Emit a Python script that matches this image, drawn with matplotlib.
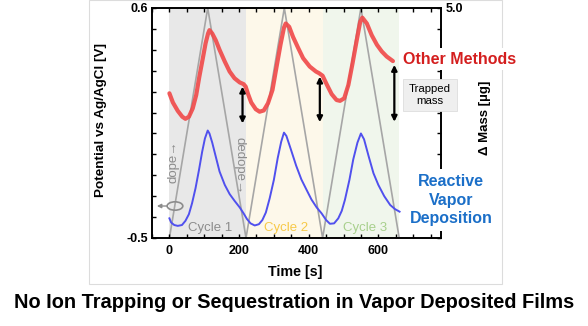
import matplotlib
matplotlib.use("Agg")
import matplotlib.pyplot as plt
from matplotlib.patches import Ellipse, Rectangle
import numpy as np

plt.rcParams['font.family'] = ['Liberation Sans', 'DejaVu Sans']

# potential sweep (left axis, V)
tri_t = [0, 110, 220, 330, 440, 550, 660]
tri_v = [-0.5, 0.6, -0.5, 0.6, -0.5, 0.6, -0.5]

# mass traces (right axis, ug)
red_t = [0, 10, 24, 37, 46, 56, 67, 77, 86, 96, 104, 111, 115, 123, 133, 144, 159,
         173, 187, 202, 213, 219, 226, 235, 248, 259, 271, 283, 296, 307, 319, 329,
         334, 344, 355, 370, 384, 403, 421, 430, 440, 452, 466, 480, 490, 502, 514,
         526, 538, 548, 554, 567, 581, 596, 610, 624, 642]
red_m = [2.96, 2.74, 2.54, 2.40, 2.35, 2.40, 2.60, 2.92, 3.36, 3.80, 4.16, 4.39, 4.47,
         4.39, 4.23, 4.00, 3.72, 3.48, 3.32, 3.22, 3.18, 3.12, 2.94, 2.74, 2.58, 2.52,
         2.55, 2.72, 3.04, 3.56, 4.12, 4.53, 4.63, 4.55, 4.31, 4.04, 3.80, 3.60, 3.48,
         3.44, 3.38, 3.17, 2.94, 2.80, 2.78, 2.84, 3.16, 3.68, 4.23, 4.67, 4.77, 4.63,
         4.35, 4.12, 3.96, 3.84, 3.73]

blue_t = [0, 5, 14, 24, 36, 46, 56, 65, 75, 85, 94, 102, 110, 115, 123, 133, 144, 159,
          173, 187, 202, 213, 223, 233, 245, 257, 267, 277, 288, 300, 311, 321, 329,
          336, 348, 364, 379, 394, 408, 423, 437, 450, 461, 473, 485, 495, 504, 517,
          528, 540, 550, 559, 572, 586, 600, 617, 634, 648, 661]
blue_m = [-0.03, -0.13, -0.19, -0.21, -0.19, -0.09, 0.07, 0.33, 0.69, 1.13, 1.56, 1.88,
          2.07, 2.00, 1.78, 1.45, 1.09, 0.77, 0.55, 0.39, 0.23, 0.09, -0.05, -0.15,
          -0.20, -0.17, -0.07, 0.11, 0.45, 0.89, 1.41, 1.80, 2.02, 1.94, 1.64, 1.23,
          0.90, 0.65, 0.42, 0.23, 0.09, -0.07, -0.16, -0.15, -0.03, 0.15, 0.41, 0.89,
          1.38, 1.78, 2.00, 1.86, 1.46, 1.05, 0.77, 0.50, 0.29, 0.19, 0.13]

cycle_edges = [0, 220, 440, 660]
cycle_names = ['Cycle 1', 'Cycle 2', 'Cycle 3']
cycle_fill = ['#e8e8e8', '#fdf8ea', '#f0f6ec']
cycle_text = ['#8c8c8c', '#f7c948', '#a8d08d']
cycle_label_t = [118, 334, 562]

# trapped mass arrows: time, top, bottom (ug)
arrow_t = [210, 432, 646]
arrow_top = [3.12, 3.36, 3.64]
arrow_bot = [2.24, 2.27, 2.28]

W, H = 588, 326
fig = plt.figure(figsize=(W / 100, H / 100), dpi=100)

def fx(x):
    return x / W

def fy(y):
    return 1 - y / H

# faint outer frame
fig.patches.append(Rectangle((fx(89), fy(284)), fx(502) - fx(89), fy(0) - fy(284),
                             transform=fig.transFigure, fill=False, ec='#dcdcdc', lw=0.8))

ax = fig.add_axes([fx(152), fy(238), fx(441) - fx(152), fy(8) - fy(238)])
ax2 = ax.twinx()

for i in range(3):
    ax.axvspan(cycle_edges[i], cycle_edges[i + 1], color=cycle_fill[i], lw=0, zorder=0)
    ax.text(cycle_label_t[i], -0.452, cycle_names[i], color=cycle_text[i],
            fontsize=9.5, ha='center', va='center')

ax.plot(tri_t, tri_v, color='#a6a6a6', lw=1.2, zorder=1)

ax.set_xlim(-50, 780)
ax.set_ylim(-0.5, 0.6)
ax2.set_ylim(-0.5, 5.0)

ax2.plot(red_t, red_m, color='#f04848', lw=3, alpha=0.9, solid_capstyle='round',
         solid_joinstyle='round')
ax2.plot(blue_t, blue_m, color='#5050ee', lw=1.4, solid_joinstyle='round')

for t, a, b in zip(arrow_t, arrow_top, arrow_bot):
    ax2.annotate('', xy=(t, a), xytext=(t, b),
                 arrowprops=dict(arrowstyle='<|-|>', color='k', lw=1.6, mutation_scale=8,
                                 shrinkA=0, shrinkB=0))

# dope / dedope labels and axis marker
ax.text(12, -0.137, 'dope\u2192', rotation=90, color='#8c8c8c', fontsize=9.5,
        ha='center', va='center')
ax.text(202, -0.156, 'dedope\u2192', rotation=-90, color='#8c8c8c', fontsize=9.5,
        ha='center', va='center')
ax.add_patch(Ellipse((16, -0.347), 45, 0.04, fill=False, ec='#8c8c8c', lw=1.2))
ax.annotate('', xy=(-36, -0.347), xytext=(-7, -0.347),
            arrowprops=dict(arrowstyle='-|>', color='#8c8c8c', lw=1, mutation_scale=6,
                            shrinkA=0, shrinkB=0))

# ticks
ax.set_xticks([0, 200, 400, 600])
ax.set_xticks(np.arange(-50, 780, 50), minor=True)
ax.set_yticks(np.round(np.arange(-0.5, 0.61, 0.1), 1))
ax.set_yticklabels(['-0.5'] + [''] * 10 + ['0.6'])
ax2.set_yticks(np.round(np.arange(-0.5, 5.01, 0.5), 1))
ax2.set_yticklabels([''] * 11 + ['5.0'])
ax.tick_params(axis='x', which='both', direction='in', top=True, length=3, width=1, pad=5)
ax.tick_params(axis='y', direction='in', length=3, width=1, pad=3)
ax2.tick_params(axis='y', direction='in', length=3, width=1, pad=3)
for lab in ax.get_xticklabels() + ax.get_yticklabels() + ax2.get_yticklabels():
    lab.set_fontweight('bold')
    lab.set_fontsize(9)
for a in (ax, ax2):
    for s in a.spines.values():
        s.set_linewidth(1.2)

# axis titles
fig.text(fx(101), fy(120), 'Potential vs Ag/AgCl [V]', rotation=90, fontsize=9.7,
         fontweight='bold', ha='center', va='center')
fig.text(fx(485), fy(118), '\u0394 Mass [\u00b5g]', rotation=90, fontsize=9.5,
         fontweight='bold', ha='center', va='center')
fig.text(fx(295), fy(272), 'Time [s]', fontsize=10.3, fontweight='bold',
         ha='center', va='center')

# callouts
fig.text(fx(460), fy(59), 'Other Methods', color='#d41e1e', fontsize=11.5,
         fontweight='bold', ha='center', va='center',
         bbox=dict(boxstyle='square,pad=0.25', fc='white', ec='none'))
fig.text(fx(430), fy(95), 'Trapped\nmass', fontsize=8.2, ha='center', va='center',
         linespacing=1.2,
         bbox=dict(boxstyle='square,pad=0.5', fc='#efefef', ec='#dddddd', lw=0.6))
fig.text(fx(451), fy(200), 'Reactive\nVapor\nDeposition', color='#1b6fc8',
         fontsize=11.5, fontweight='bold', ha='center', va='center', linespacing=1.3,
         bbox=dict(boxstyle='square,pad=0.3', fc='white', ec='none'))

fig.text(0.5, fy(302), 'No Ion Trapping or Sequestration in Vapor Deposited Films',
         fontsize=14.4, fontweight='bold', ha='center', va='center')

fig.savefig('out.png', dpi=100)
